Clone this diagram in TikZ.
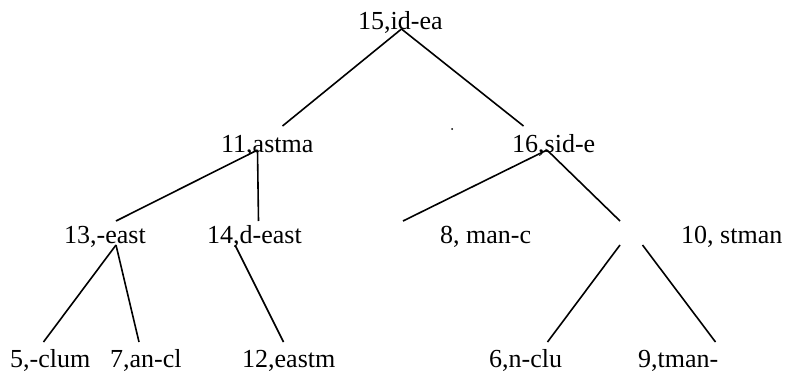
\documentclass[tikz,border=0pt]{standalone}
\usepackage{fontspec}
\setmainfont{Liberation Serif}
\begin{document}
\begin{tikzpicture}[x=1pt,y=-1pt,
  lbl/.style={anchor=base west,inner sep=0pt,font=\fontsize{26}{30}\selectfont},
  edge/.style={line width=1.6pt,black}]
\useasboundingbox (0,0) rectangle (785,375);
% labels
\node[lbl] (n15) at (358,29) {15,id-ea};
\node[lbl] (n11) at (221,152) {11,astma};
\node[lbl] (n16) at (512,152) {16,sid-e};
\node[lbl] (n13) at (64,243) {13,-east};
\node[lbl] (n14) at (207,243) {14,d-east};
\node[lbl] (n8) at (440,243) {8, man-c};
\node[lbl] (n10) at (681,243) {10, stman};
\node[lbl] (n5) at (10,367) {5,-clum};
\node[lbl] (n7) at (110,367) {7,an-cl};
\node[lbl] (n12) at (242,367) {12,eastm};
\node[lbl] (n6) at (489,367) {6,n-clu};
\node[lbl] (n9) at (638,367) {9,tman-};
% connector end points
\coordinate (p15) at (401.5,29);
\coordinate (a11) at (282.5,126);
\coordinate (a16) at (523.5,126);
\coordinate (p11) at (257.5,150);
\coordinate (a13) at (116,221);
\coordinate (a14) at (258.5,221);
\coordinate (p16) at (547,150);
\coordinate (a8) at (403,221);
\coordinate (aX) at (620,221);
\coordinate (p13) at (116,245);
\coordinate (a5) at (43.5,342);
\coordinate (a7) at (139,342);
\coordinate (p14) at (235,245);
\coordinate (a12) at (283.5,342);
\coordinate (pXl) at (620,245);
\coordinate (a6) at (547.5,342);
\coordinate (pXr) at (642.5,245);
\coordinate (a9) at (715.5,342);
% connectors
\draw[edge] (p15) -- (a11);
\draw[edge] (p15) -- (a16);
\draw[edge] (p11) -- (a13);
\draw[edge] (p11) -- (a14);
\draw[edge] (p16) -- (a8);
\draw[edge] (p16) -- (aX);
\draw[edge] (p13) -- (a5);
\draw[edge] (p13) -- (a7);
\draw[edge] (p14) -- (a12);
\draw[edge] (pXl) -- (a6);
\draw[edge] (pXr) -- (a9);
% stray dot
\fill (452,129) circle (1pt);
\end{tikzpicture}
\end{document}
